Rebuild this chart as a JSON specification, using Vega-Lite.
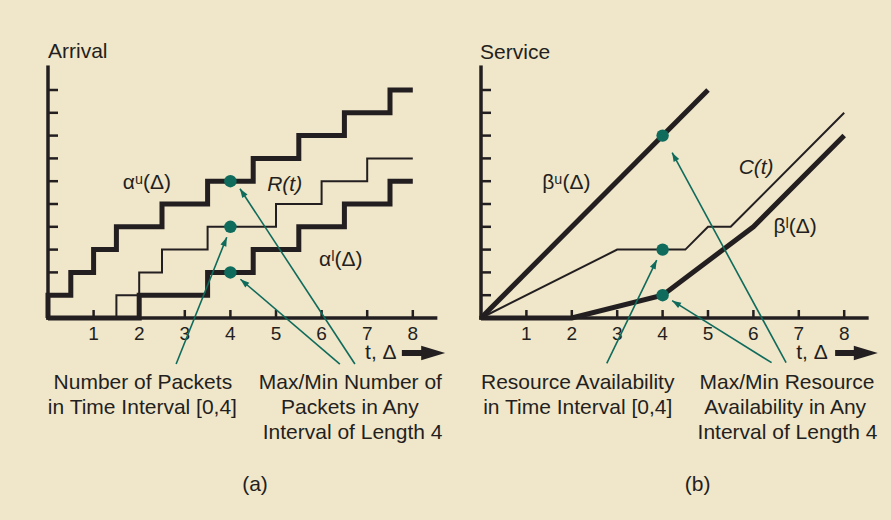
{
  "$schema": "https://vega.github.io/schema/vega-lite/v6.json",
  "background": "#f0e6c9",
  "padding": 0,
  "spacing": 0,
  "bounds": "flush",
  "config": {
    "view": {"stroke": null},
    "text": {"font": "Liberation Sans", "fontSize": 21, "color": "#231f20", "align": "center", "baseline": "middle"}
  },
  "datasets": {
    "arrivalCurves": [
      {"series": "alpha_u", "i": 0, "t": 0, "v": 0},
      {"series": "alpha_u", "i": 1, "t": 0, "v": 1},
      {"series": "alpha_u", "i": 2, "t": 0.5, "v": 2},
      {"series": "alpha_u", "i": 3, "t": 1, "v": 3},
      {"series": "alpha_u", "i": 4, "t": 1.5, "v": 4},
      {"series": "alpha_u", "i": 5, "t": 2.5, "v": 5},
      {"series": "alpha_u", "i": 6, "t": 3.5, "v": 6},
      {"series": "alpha_u", "i": 7, "t": 4.5, "v": 7},
      {"series": "alpha_u", "i": 8, "t": 5.5, "v": 8},
      {"series": "alpha_u", "i": 9, "t": 6.5, "v": 9},
      {"series": "alpha_u", "i": 10, "t": 7.5, "v": 10},
      {"series": "alpha_u", "i": 11, "t": 8, "v": 10},
      {"series": "alpha_l", "i": 0, "t": 0, "v": 0},
      {"series": "alpha_l", "i": 1, "t": 2, "v": 1},
      {"series": "alpha_l", "i": 2, "t": 3.5, "v": 2},
      {"series": "alpha_l", "i": 3, "t": 4.5, "v": 3},
      {"series": "alpha_l", "i": 4, "t": 5.5, "v": 4},
      {"series": "alpha_l", "i": 5, "t": 6.5, "v": 5},
      {"series": "alpha_l", "i": 6, "t": 7.5, "v": 6},
      {"series": "alpha_l", "i": 7, "t": 8, "v": 6},
      {"series": "R", "i": 0, "t": 0, "v": 0},
      {"series": "R", "i": 1, "t": 1.5, "v": 1},
      {"series": "R", "i": 2, "t": 2, "v": 2},
      {"series": "R", "i": 3, "t": 2.5, "v": 3},
      {"series": "R", "i": 4, "t": 3.5, "v": 4},
      {"series": "R", "i": 5, "t": 5, "v": 5},
      {"series": "R", "i": 6, "t": 6, "v": 6},
      {"series": "R", "i": 7, "t": 7, "v": 7},
      {"series": "R", "i": 8, "t": 8, "v": 7}
    ],
    "serviceCurves": [
      {"series": "beta_u", "i": 0, "t": 0, "v": 0},
      {"series": "beta_u", "i": 1, "t": 5, "v": 10},
      {"series": "C", "i": 0, "t": 0, "v": 0},
      {"series": "C", "i": 1, "t": 3, "v": 3},
      {"series": "C", "i": 2, "t": 4.5, "v": 3},
      {"series": "C", "i": 3, "t": 5, "v": 4},
      {"series": "C", "i": 4, "t": 5.5, "v": 4},
      {"series": "C", "i": 5, "t": 8, "v": 9},
      {"series": "beta_l", "i": 0, "t": 0, "v": 0},
      {"series": "beta_l", "i": 1, "t": 2, "v": 0},
      {"series": "beta_l", "i": 2, "t": 4, "v": 1},
      {"series": "beta_l", "i": 3, "t": 6, "v": 4},
      {"series": "beta_l", "i": 4, "t": 8, "v": 8}
    ],
    "arrivalDots": [{"t": 4, "v": 6}, {"t": 4, "v": 4}, {"t": 4, "v": 2}],
    "serviceDots": [{"t": 4, "v": 8}, {"t": 4, "v": 3}, {"t": 4, "v": 1}],
    "xTicks": [{"t": 1}, {"t": 2}, {"t": 3}, {"t": 4}, {"t": 5}, {"t": 6}, {"t": 7}, {"t": 8}],
    "yTicks": [{"v": 1}, {"v": 2}, {"v": 3}, {"v": 4}, {"v": 5}, {"v": 6}, {"v": 7}, {"v": 8}, {"v": 9}, {"v": 10}],
    "axes": [{"t": 0, "v": 0, "t2": 0, "v2": 11}, {"t": 0, "v": 0, "t2": 8.5, "v2": 0}],
    "bigArrow": [{"t0": 7.76, "t1": 8.3, "tip": 8.71, "v": -1.535}],
    "bigArrowB": [{"t0": 7.8, "t1": 8.3, "tip": 8.74, "v": -1.535}],
    "arrivalArrows": [
      {"x1": 2.81, "y1": -2.02, "x2": 3.92, "y2": 3.54},
      {"x1": 6.40, "y1": -2.02, "x2": 4.22, "y2": 1.70},
      {"x1": 6.73, "y1": -2.02, "x2": 4.21, "y2": 5.67}
    ],
    "serviceArrows": [
      {"x1": 2.77, "y1": -1.99, "x2": 3.87, "y2": 2.54},
      {"x1": 6.40, "y1": -1.96, "x2": 4.21, "y2": 0.76},
      {"x1": 6.72, "y1": -1.96, "x2": 4.21, "y2": 7.25}
    ],
    "arrivalLabels": [
      {"text": "αᵘ(Δ)", "t": 2.17, "v": 5.9},
      {"text": "αˡ(Δ)", "t": 6.42, "v": 2.54}
    ],
    "arrivalItalic": [{"text": "R(t)", "t": 5.19, "v": 5.83}],
    "serviceLabels": [
      {"text": "βᵘ(Δ)", "t": 1.88, "v": 5.9},
      {"text": "βˡ(Δ)", "t": 6.92, "v": 3.99}
    ],
    "serviceItalic": [{"text": "C(t)", "t": 6.06, "v": 6.58}],
    "arrivalNotes": [
      {"text": "Number of Packets", "t": 2.08, "v": -2.85},
      {"text": "in Time Interval [0,4]", "t": 2.07, "v": -3.95},
      {"text": "Max/Min Number of", "t": 6.63, "v": -2.85},
      {"text": "Packets in Any", "t": 6.62, "v": -3.95},
      {"text": "Interval of Length 4", "t": 6.68, "v": -5.04},
      {"text": "(a)", "t": 4.54, "v": -7.32},
      {"text": "t, Δ", "t": 7.3, "v": -1.535}
    ],
    "serviceNotes": [
      {"text": "Resource Availability", "t": 2.13, "v": -2.85},
      {"text": "in Time Interval [0,4]", "t": 2.13, "v": -3.95},
      {"text": "Max/Min Resource", "t": 6.74, "v": -2.85},
      {"text": "Availability in Any", "t": 6.7, "v": -3.95},
      {"text": "Interval of Length 4", "t": 6.75, "v": -5.04},
      {"text": "(b)", "t": 4.77, "v": -7.32},
      {"text": "t, Δ", "t": 7.29, "v": -1.535}
    ],
    "arrivalTitle": [{"text": "Arrival", "t": 0, "v": 11.67}],
    "serviceTitle": [{"text": "Service", "t": -0.02, "v": 11.64}]
  },
  "hconcat": [
    {
      "width": 445,
      "height": 520,
      "encoding": {
        "x": {"field": "t", "type": "quantitative", "scale": {"domain": [-1.0526, 8.7061], "nice": false, "zero": false}, "axis": null},
        "y": {"field": "v", "type": "quantitative", "scale": {"domain": [-8.8596, 13.9474], "nice": false, "zero": false}, "axis": null}
      },
      "layer": [
        {"data": {"name": "axes"}, "mark": {"type": "rule", "color": "#231f20", "strokeWidth": 3.5, "strokeCap": "square"},
         "encoding": {"x2": {"field": "t2"}, "y2": {"field": "v2"}}},
        {"data": {"name": "xTicks"}, "transform": [{"calculate": "0", "as": "v"}, {"calculate": "0.35", "as": "v2"}],
         "mark": {"type": "rule", "color": "#231f20", "strokeWidth": 2.5},
         "encoding": {"y2": {"field": "v2"}}},
        {"data": {"name": "yTicks"}, "transform": [{"calculate": "0", "as": "t"}, {"calculate": "0.22", "as": "t2"}],
         "mark": {"type": "rule", "color": "#231f20", "strokeWidth": 2.5},
         "encoding": {"x2": {"field": "t2"}}},
        {"data": {"name": "xTicks"}, "transform": [{"calculate": "-0.72", "as": "v"}],
         "mark": {"type": "text", "fontSize": 19},
         "encoding": {"text": {"field": "t", "type": "quantitative"}}},
        {"data": {"name": "arrivalCurves"}, "transform": [{"filter": "datum.series !== 'R'"}],
         "mark": {"type": "line", "interpolate": "step-after", "color": "#231f20", "strokeWidth": 5, "strokeCap": "butt", "strokeJoin": "miter"},
         "encoding": {"detail": {"field": "series"}, "order": {"field": "i"}}},
        {"data": {"name": "arrivalCurves"}, "transform": [{"filter": "datum.series === 'R'"}],
         "mark": {"type": "line", "interpolate": "step-after", "color": "#231f20", "strokeWidth": 2, "strokeCap": "butt", "strokeJoin": "miter"},
         "encoding": {"order": {"field": "i"}}},
        {"data": {"name": "arrivalArrows"}, "mark": {"type": "rule", "color": "#0f6b5c", "strokeWidth": 1.6},
         "encoding": {"x": {"field": "x1", "type": "quantitative"}, "y": {"field": "y1", "type": "quantitative"}, "x2": {"field": "x2"}, "y2": {"field": "y2"}}},
        {"data": {"name": "arrivalArrows"},
         "transform": [{"calculate": "atan2((datum.x2-datum.x1)*45.6,(datum.y2-datum.y1)*22.8)*180/PI", "as": "angle"}],
         "mark": {"type": "point", "shape": "M0,0L-0.35,1L0.35,1Z", "filled": true, "size": 324, "color": "#0f6b5c", "opacity": 1},
         "encoding": {"x": {"field": "x2", "type": "quantitative"}, "y": {"field": "y2", "type": "quantitative"}, "angle": {"field": "angle", "type": "quantitative", "scale": null}}},
        {"data": {"name": "arrivalDots"}, "mark": {"type": "circle", "size": 155, "color": "#0f6b5c", "opacity": 1}},
        {"data": {"name": "bigArrow"}, "mark": {"type": "rule", "color": "#231f20", "strokeWidth": 6},
         "encoding": {"x": {"field": "t0", "type": "quantitative"}, "x2": {"field": "t1"}}},
        {"data": {"name": "bigArrow"}, "mark": {"type": "point", "shape": "M0,0L-1,-0.3L-1,0.3Z", "filled": true, "size": 2304, "color": "#231f20", "opacity": 1},
         "encoding": {"x": {"field": "tip", "type": "quantitative"}}},
        {"data": {"name": "arrivalLabels"}, "mark": {"type": "text"}, "encoding": {"text": {"field": "text"}}},
        {"data": {"name": "arrivalItalic"}, "mark": {"type": "text", "fontStyle": "italic"}, "encoding": {"text": {"field": "text"}}},
        {"data": {"name": "arrivalNotes"}, "mark": {"type": "text"}, "encoding": {"text": {"field": "text"}}},
        {"data": {"name": "arrivalTitle"}, "mark": {"type": "text", "align": "left"}, "encoding": {"text": {"field": "text"}}}
      ]
    },
    {
      "width": 446,
      "height": 520,
      "encoding": {
        "x": {"field": "t", "type": "quantitative", "scale": {"domain": [-0.793, 9.0308], "nice": false, "zero": false}, "axis": null},
        "y": {"field": "v", "type": "quantitative", "scale": {"domain": [-8.8596, 13.9474], "nice": false, "zero": false}, "axis": null}
      },
      "layer": [
        {"data": {"name": "axes"}, "mark": {"type": "rule", "color": "#231f20", "strokeWidth": 3.5, "strokeCap": "square"},
         "encoding": {"x2": {"field": "t2"}, "y2": {"field": "v2"}}},
        {"data": {"name": "xTicks"}, "transform": [{"calculate": "0", "as": "v"}, {"calculate": "0.35", "as": "v2"}],
         "mark": {"type": "rule", "color": "#231f20", "strokeWidth": 2.5},
         "encoding": {"y2": {"field": "v2"}}},
        {"data": {"name": "yTicks"}, "transform": [{"calculate": "0", "as": "t"}, {"calculate": "0.22", "as": "t2"}],
         "mark": {"type": "rule", "color": "#231f20", "strokeWidth": 2.5},
         "encoding": {"x2": {"field": "t2"}}},
        {"data": {"name": "xTicks"}, "transform": [{"calculate": "-0.72", "as": "v"}],
         "mark": {"type": "text", "fontSize": 19},
         "encoding": {"text": {"field": "t", "type": "quantitative"}}},
        {"data": {"name": "serviceCurves"}, "transform": [{"filter": "datum.series !== 'C'"}],
         "mark": {"type": "line", "color": "#231f20", "strokeWidth": 5, "strokeCap": "butt", "strokeJoin": "miter"},
         "encoding": {"detail": {"field": "series"}, "order": {"field": "i"}}},
        {"data": {"name": "serviceCurves"}, "transform": [{"filter": "datum.series === 'C'"}],
         "mark": {"type": "line", "color": "#231f20", "strokeWidth": 2, "strokeCap": "butt", "strokeJoin": "miter"},
         "encoding": {"order": {"field": "i"}}},
        {"data": {"name": "serviceArrows"}, "mark": {"type": "rule", "color": "#0f6b5c", "strokeWidth": 1.6},
         "encoding": {"x": {"field": "x1", "type": "quantitative"}, "y": {"field": "y1", "type": "quantitative"}, "x2": {"field": "x2"}, "y2": {"field": "y2"}}},
        {"data": {"name": "serviceArrows"},
         "transform": [{"calculate": "atan2((datum.x2-datum.x1)*45.4,(datum.y2-datum.y1)*22.8)*180/PI", "as": "angle"}],
         "mark": {"type": "point", "shape": "M0,0L-0.35,1L0.35,1Z", "filled": true, "size": 324, "color": "#0f6b5c", "opacity": 1},
         "encoding": {"x": {"field": "x2", "type": "quantitative"}, "y": {"field": "y2", "type": "quantitative"}, "angle": {"field": "angle", "type": "quantitative", "scale": null}}},
        {"data": {"name": "serviceDots"}, "mark": {"type": "circle", "size": 155, "color": "#0f6b5c", "opacity": 1}},
        {"data": {"name": "bigArrowB"}, "mark": {"type": "rule", "color": "#231f20", "strokeWidth": 6},
         "encoding": {"x": {"field": "t0", "type": "quantitative"}, "x2": {"field": "t1"}}},
        {"data": {"name": "bigArrowB"}, "mark": {"type": "point", "shape": "M0,0L-1,-0.3L-1,0.3Z", "filled": true, "size": 2304, "color": "#231f20", "opacity": 1},
         "encoding": {"x": {"field": "tip", "type": "quantitative"}}},
        {"data": {"name": "serviceLabels"}, "mark": {"type": "text"}, "encoding": {"text": {"field": "text"}}},
        {"data": {"name": "serviceItalic"}, "mark": {"type": "text", "fontStyle": "italic"}, "encoding": {"text": {"field": "text"}}},
        {"data": {"name": "serviceNotes"}, "mark": {"type": "text"}, "encoding": {"text": {"field": "text"}}},
        {"data": {"name": "serviceTitle"}, "mark": {"type": "text", "align": "left"}, "encoding": {"text": {"field": "text"}}}
      ]
    }
  ]
}
